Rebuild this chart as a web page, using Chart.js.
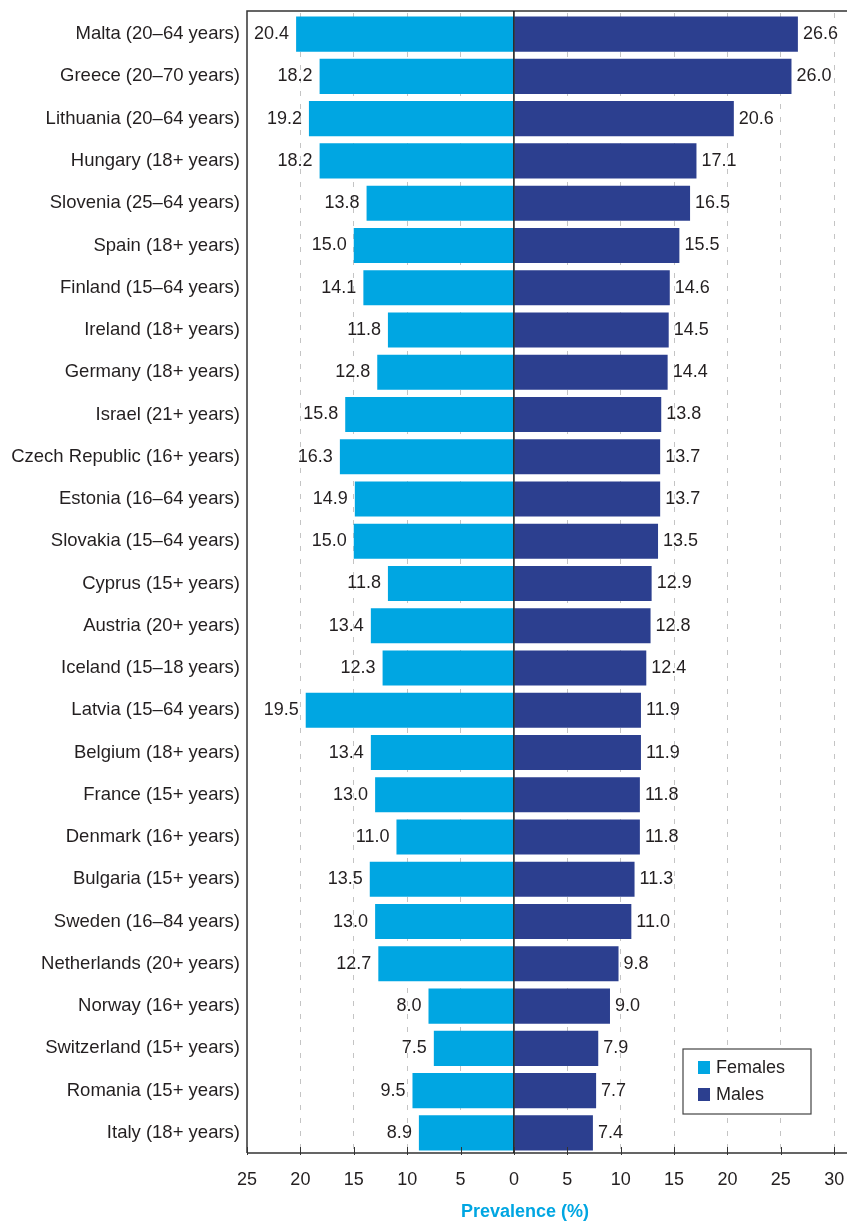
<!DOCTYPE html>
<html>
<head>
<meta charset="utf-8">
<script src="https://cdn.jsdelivr.net/npm/chart.js@4"></script>
<style>
  html, body { margin: 0; padding: 0; background: #fff; }
  #wrap { width: 847px; height: 1222px; }
</style>
</head>
<body>
<div id="wrap"><canvas id="chart" width="847" height="1222"></canvas></div>
<script>
const categories = [
  'Malta (20–64 years)', 'Greece (20–70 years)', 'Lithuania (20–64 years)', 'Hungary (18+ years)',
  'Slovenia (25–64 years)', 'Spain (18+ years)', 'Finland (15–64 years)', 'Ireland (18+ years)',
  'Germany (18+ years)', 'Israel (21+ years)', 'Czech Republic (16+ years)', 'Estonia (16–64 years)',
  'Slovakia (15–64 years)', 'Cyprus (15+ years)', 'Austria (20+ years)', 'Iceland (15–18 years)',
  'Latvia (15–64 years)', 'Belgium (18+ years)', 'France (15+ years)', 'Denmark (16+ years)',
  'Bulgaria (15+ years)', 'Sweden (16–84 years)', 'Netherlands (20+ years)', 'Norway (16+ years)',
  'Switzerland (15+ years)', 'Romania (15+ years)', 'Italy (18+ years)'
];
const females = [20.4, 18.2, 19.2, 18.2, 13.8, 15.0, 14.1, 11.8, 12.8, 15.8, 16.3, 14.9, 15.0, 11.8,
  13.4, 12.3, 19.5, 13.4, 13.0, 11.0, 13.5, 13.0, 12.7, 8.0, 7.5, 9.5, 8.9];
const males = [26.6, 26.0, 20.6, 17.1, 16.5, 15.5, 14.6, 14.5, 14.4, 13.8, 13.7, 13.7, 13.5, 12.9,
  12.8, 12.4, 11.9, 11.9, 11.8, 11.8, 11.3, 11.0, 9.8, 9.0, 7.9, 7.7, 7.4];
const xTicks = [-25, -20, -15, -10, -5, 0, 5, 10, 15, 20, 25, 30];
const axisTitle = 'Prevalence (%)';

const FEMALE = '#00a6e2';
const MALE = '#2c3f8f';
const TEXT = '#231f20';
const FONT = 'Liberation Sans, Arial, Helvetica, sans-serif';

// frame, zero line, inner ticks, value labels, legend, axis title
const decor = {
  id: 'decor',
  afterDatasetsDraw(chart) {
    const { ctx, chartArea: a, scales: { x } } = chart;
    const top = a.top - 2, bottom = a.bottom - 1;
    ctx.save();

    // value labels
    ctx.font = '18px ' + FONT;
    ctx.fillStyle = TEXT;
    ctx.textBaseline = 'middle';
    chart.data.datasets.forEach((ds, di) => {
      chart.getDatasetMeta(di).data.forEach((bar, i) => {
        const v = Math.abs(ds.data[i]).toFixed(1);
        if (ds.data[i] < 0) {
          ctx.textAlign = 'right';
          // Malta's label sits tight against the frame
          const gap = bar.x - 7 - ctx.measureText(v).width < a.left + 4 ? 5 : 7;
          ctx.fillText(v, bar.x - gap, bar.y);
        } else {
          ctx.textAlign = 'left';
          ctx.fillText(v, bar.x + 5, bar.y);
        }
      });
    });

    // frame
    ctx.strokeStyle = '#333';
    ctx.lineWidth = 1.5;
    ctx.beginPath();
    ctx.moveTo(a.left, bottom);
    ctx.lineTo(a.left, top);
    ctx.lineTo(a.right, top);
    ctx.moveTo(a.left, bottom);
    ctx.lineTo(a.right, bottom);
    ctx.stroke();

    // zero line
    const x0 = x.getPixelForValue(0);
    ctx.strokeStyle = '#111';
    ctx.lineWidth = 1.5;
    ctx.beginPath();
    ctx.moveTo(x0, top);
    ctx.lineTo(x0, bottom);
    ctx.stroke();

    // tick marks pointing inward
    ctx.strokeStyle = '#333';
    ctx.lineWidth = 1;
    ctx.beginPath();
    xTicks.forEach(t => {
      const px = Math.round(x.getPixelForValue(t)) + 0.5;
      ctx.moveTo(px, bottom - 6);
      ctx.lineTo(px, bottom + 2);
    });
    ctx.stroke();

    // legend box
    const lx = 683, ly = 1049, lw = 128, lh = 65;
    ctx.fillStyle = '#fff';
    ctx.fillRect(lx, ly, lw, lh);
    ctx.strokeStyle = '#444';
    ctx.lineWidth = 1.2;
    ctx.strokeRect(lx, ly, lw, lh);
    ctx.font = '18px ' + FONT;
    ctx.textAlign = 'left';
    ctx.textBaseline = 'middle';
    chart.data.datasets.forEach((ds, di) => {
      const cy = ly + 19 + di * 27;
      ctx.fillStyle = ds.backgroundColor;
      ctx.fillRect(lx + 15, cy - 7, 12, 13);
      ctx.fillStyle = TEXT;
      ctx.fillText(ds.label, lx + 33, cy);
    });

    // axis title
    ctx.font = 'bold 18px ' + FONT;
    ctx.fillStyle = FEMALE;
    ctx.textAlign = 'center';
    ctx.fillText(axisTitle, 525, 1212);

    ctx.restore();
  }
};

new Chart(document.getElementById('chart'), {
  type: 'bar',
  data: {
    labels: categories,
    datasets: [
      { label: 'Females', data: females.map(v => -v), backgroundColor: FEMALE },
      { label: 'Males', data: males, backgroundColor: MALE }
    ]
  },
  options: {
    indexAxis: 'y',
    responsive: false,
    animation: false,
    layout: { padding: { top: 13, right: 0, bottom: 0, left: 0 } },
    datasets: { bar: { barPercentage: 0.83, categoryPercentage: 1.0 } },
    plugins: { legend: { display: false }, tooltip: { enabled: false } },
    scales: {
      x: {
        stacked: true,
        min: -25,
        max: 31.2,
        afterBuildTicks: axis => { axis.ticks = xTicks.map(v => ({ value: v })); },
        afterFit: scale => {
          scale.height = 68;
          scale.paddingLeft = 0;
          scale.paddingRight = 0;
        },
        ticks: {
          callback: v => String(Math.abs(v)),
          color: TEXT,
          font: { family: FONT, size: 18 },
          padding: 15,
          maxRotation: 0,
          autoSkip: false
        },
        grid: {
          drawTicks: false,
          color: c => (c.tick && (c.tick.value === 0 || c.tick.value === -25)) ? 'rgba(0,0,0,0)' : '#c4c4c4',
          lineWidth: 1
        },
        border: { display: false, dash: [5, 8] }
      },
      y: {
        stacked: true,
        afterFit: scale => {
          scale.width = 247;
          scale.paddingTop = 0;
          scale.paddingBottom = 0;
        },
        ticks: {
          color: TEXT,
          font: { family: FONT, size: 18.5 },
          padding: 7,
          autoSkip: false
        },
        grid: { display: false, drawTicks: false, tickLength: 0 },
        border: { display: false }
      }
    }
  },
  plugins: [decor]
});
</script>
</body>
</html>
